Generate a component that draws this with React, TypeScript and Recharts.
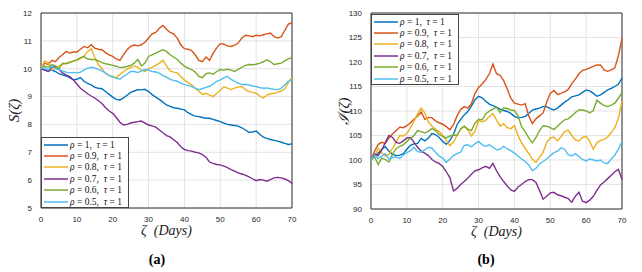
import React from "react";
import {
  LineChart,
  Line,
  XAxis,
  YAxis,
  CartesianGrid,
  Legend,
  ReferenceArea,
} from "recharts";

// ---------------------------------------------------------------------------
// Data (one value per day)
// ---------------------------------------------------------------------------

const DAYS = Array.from({ length: 71 }, (_, i) => i);
const X_TICKS = [0, 10, 20, 30, 40, 50, 60, 70];
const S_TICKS = [5, 6, 7, 8, 9, 10, 11, 12];
const I_TICKS = [90, 95, 100, 105, 110, 115, 120, 125, 130];

const LABELS = ["1", "0.9", "0.8", "0.7", "0.6", "0.5"];
const COLORS = ["#0072BD", "#D95319", "#EDB120", "#7E2F8E", "#77AC30", "#4DBEEE"];

// panel (a): S(zeta)
const S_RHO_10 = [10.0, 9.96, 9.92, 9.95, 9.9, 9.82, 9.78, 9.74, 9.68, 9.6, 9.62, 9.68, 9.55, 9.47, 9.42, 9.33, 9.3, 9.28, 9.18, 9.08, 8.98, 8.9, 8.88, 8.95, 9.05, 9.15, 9.2, 9.25, 9.24, 9.26, 9.18, 9.07, 8.98, 8.9, 8.8, 8.7, 8.65, 8.6, 8.58, 8.55, 8.52, 8.42, 8.35, 8.3, 8.28, 8.25, 8.22, 8.22, 8.18, 8.14, 8.1, 8.05, 8.0, 7.98, 7.96, 7.94, 7.88, 7.8, 7.72, 7.73, 7.76, 7.65, 7.54, 7.5, 7.46, 7.43, 7.4, 7.36, 7.32, 7.28, 7.3];
const S_RHO_09 = [10.0, 10.2, 10.15, 10.3, 10.25, 10.4, 10.5, 10.62, 10.56, 10.6, 10.6, 10.7, 10.8, 10.75, 10.86, 10.74, 10.7, 10.68, 10.58, 10.5, 10.44, 10.35, 10.3, 10.5, 10.68, 10.8, 10.85, 10.82, 10.86, 10.95, 11.1, 11.25, 11.3, 11.45, 11.55, 11.42, 11.3, 11.25, 11.1, 10.85, 10.72, 10.7, 10.65, 10.5, 10.3, 10.25, 10.42, 10.3, 10.55, 10.75, 10.9, 10.88, 10.82, 10.8, 10.85, 10.92, 11.1, 11.2, 11.18, 11.15, 11.2, 11.18, 11.22, 11.25, 11.28, 11.15, 11.1, 11.15, 11.38, 11.6, 11.65];
const S_RHO_08 = [10.0, 10.28, 10.22, 9.95, 10.02, 10.1, 10.15, 10.2, 10.24, 10.27, 10.3, 10.36, 10.45, 10.62, 10.72, 10.4, 10.15, 10.0, 9.82, 9.76, 9.72, 9.67, 9.8, 9.9, 9.98, 10.05, 10.1, 10.05, 9.95, 9.9, 10.0, 10.05, 10.12, 10.2, 10.3, 10.1, 9.92, 9.88, 9.85, 9.72, 9.6, 9.5, 9.42, 9.3, 9.2, 9.08, 9.12, 9.05, 9.0, 9.12, 9.22, 9.35, 9.3, 9.25, 9.3, 9.35, 9.36, 9.25, 9.18, 9.15, 9.12, 9.02, 8.95, 9.05, 9.1, 9.12, 9.15, 9.2, 9.28, 9.5, 9.7];
const S_RHO_07 = [10.0, 9.95, 9.9, 10.05, 10.08, 9.98, 9.85, 9.78, 9.72, 9.6, 9.45, 9.3, 9.2, 9.1, 9.02, 8.95, 8.85, 8.75, 8.6, 8.48, 8.4, 8.25, 8.08, 7.98, 8.0, 8.05, 8.08, 8.1, 8.12, 8.05, 7.98, 7.95, 7.9, 7.8, 7.7, 7.6, 7.55, 7.45, 7.35, 7.2, 7.1, 7.06, 7.04, 7.0, 6.98, 6.92, 6.82, 6.65, 6.6, 6.56, 6.55, 6.5, 6.45, 6.38, 6.32, 6.26, 6.22, 6.18, 6.12, 6.05, 5.98, 6.02, 6.0, 5.96, 6.02, 6.08, 6.1, 6.08, 6.04, 5.98, 5.88];
const S_RHO_06 = [10.0, 10.1, 10.05, 10.15, 10.1, 10.0, 10.2, 10.18, 10.22, 10.27, 10.32, 10.4, 10.44, 10.35, 10.33, 10.33, 10.28, 10.22, 10.18, 10.15, 10.12, 10.09, 10.04, 10.05, 10.08, 10.12, 10.2, 10.33, 10.1, 10.2, 10.44, 10.5, 10.56, 10.62, 10.68, 10.62, 10.5, 10.42, 10.33, 10.2, 10.09, 10.02, 9.97, 9.88, 9.72, 9.68, 9.82, 9.85, 9.8, 9.9, 9.97, 9.95, 9.98, 9.95, 9.9, 9.98, 10.05, 10.12, 10.15, 10.14, 10.16, 10.2, 10.25, 10.32, 10.25, 10.15, 10.18, 10.2, 10.28, 10.35, 10.4];
const S_RHO_05 = [10.0, 10.05, 9.95, 10.1, 10.0, 9.97, 9.92, 9.88, 9.85, 9.87, 9.85, 9.88, 9.95, 10.02, 10.05, 10.03, 9.98, 9.92, 9.85, 9.75, 9.7, 9.66, 9.62, 9.72, 9.8, 9.9, 9.9, 9.86, 9.92, 9.97, 9.95, 9.9, 9.88, 9.84, 9.75, 9.7, 9.62, 9.58, 9.55, 9.48, 9.43, 9.4, 9.36, 9.3, 9.25, 9.28, 9.33, 9.37, 9.45, 9.55, 9.6, 9.67, 9.73, 9.62, 9.55, 9.48, 9.43, 9.44, 9.42, 9.38, 9.36, 9.32, 9.3, 9.31, 9.28, 9.26, 9.24, 9.3, 9.42, 9.55, 9.62];

// panel (b): I(zeta)
const I_RHO_10 = [100, 100.8, 101.4, 102.2, 102.7, 101.8, 101.2, 100.9, 101.0, 101.3, 102.2, 103.0, 103.3, 103.4, 104.4, 103.9, 104.5, 105.4, 105.2, 104.6, 103.8, 103.2, 104.0, 105.2, 107.2, 108.3, 109.2, 109.9, 111.0, 112.3, 113.0, 112.7, 112.0, 111.4, 111.1, 110.8, 110.4, 110.1, 109.9, 109.5, 108.9, 108.6, 108.7, 108.9, 109.5, 110.2, 110.4, 110.6, 110.9, 110.9, 110.5, 110.2, 110.6, 111.2, 111.8, 112.3, 112.9, 113.1, 113.3, 113.8, 114.3, 114.1, 113.6, 113.0, 113.3, 113.8, 114.3, 114.6, 115.0, 115.5, 116.7];
const I_RHO_09 = [100, 101.8, 103.2, 103.6, 103.4, 104.5, 105.3, 106.0, 106.7, 106.6, 107.0, 107.6, 108.3, 109.0, 109.8, 108.3, 108.7, 108.6, 108.0, 107.6, 107.3, 106.8, 106.2, 107.2, 109.0, 110.3, 110.9, 110.6, 111.5, 113.6, 114.8, 115.5, 116.4, 117.6, 119.6, 117.6, 117.3, 116.2, 114.5, 112.6, 111.6, 111.4, 111.2, 111.5, 109.0, 107.4, 108.4, 109.0, 109.6, 111.8, 113.6, 114.2, 113.4, 113.6, 113.9, 114.4, 115.6, 116.5, 117.6, 118.3, 118.5, 118.8, 119.1, 119.4, 119.4, 118.4, 118.1, 118.4, 118.8, 121.3, 124.8];
const I_RHO_08 = [100, 100.7, 102.4, 101.5, 100.8, 101.2, 102.4, 103.6, 105.0, 104.9, 105.4, 106.6, 107.9, 109.4, 110.6, 109.6, 107.8, 106.9, 106.3, 105.8, 105.0, 104.0, 102.9, 103.6, 105.1, 106.3, 106.8, 106.2, 104.9, 105.9, 108.0, 107.8, 108.1, 108.9, 109.5, 108.2, 106.9, 107.4, 106.6, 106.4, 107.0, 105.0, 103.5, 102.4, 101.3, 100.2, 99.5, 100.6, 101.6, 103.6, 104.5, 104.7, 103.9, 104.8, 105.8, 106.1, 105.0, 104.1, 103.9, 104.6, 104.8, 103.8, 102.2, 103.5, 104.0, 104.2, 104.7, 105.6, 106.6, 108.5, 112.0];
const I_RHO_07 = [100, 101.2, 100.9, 102.0, 103.6, 105.0, 104.6, 103.6, 103.4, 103.9, 104.5, 104.6, 103.6, 102.6, 101.8, 101.4, 100.9, 100.1, 99.6, 99.3, 98.7, 97.6, 96.4, 93.7, 94.2, 95.0, 95.6, 96.3, 97.1, 97.8, 98.0, 98.4, 98.7, 98.3, 99.3, 97.8, 96.6, 95.6, 94.7, 93.9, 93.6, 94.5, 95.0, 95.6, 96.0, 96.0, 95.4, 93.8, 92.0, 92.6, 93.3, 93.4, 92.9, 92.7, 92.4, 92.1, 91.4, 92.6, 93.4, 91.6, 91.3, 91.8, 92.6, 93.8, 94.9, 95.5, 96.2, 96.9, 97.6, 98.1, 96.0];
const I_RHO_06 = [100, 100.6, 99.1, 100.4, 100.1, 99.6, 101.2, 102.3, 102.8, 103.1, 103.8, 104.4, 105.0, 106.0, 105.8, 105.5, 105.9, 106.4, 106.0, 105.2, 104.8, 104.5, 104.9, 105.1, 105.0, 106.4, 106.9, 106.3, 106.0, 107.5, 108.3, 108.2, 109.4, 110.0, 110.4, 110.8, 109.7, 110.6, 110.5, 110.2, 110.1, 109.0, 106.8, 105.8, 104.5, 103.5, 104.6, 106.0, 107.0, 106.9, 106.6, 106.2, 106.9, 107.6, 108.2, 108.4, 109.0, 109.7, 110.2, 110.2, 110.0, 109.6, 110.1, 112.2, 111.6, 111.1, 110.9, 111.2, 111.6, 112.6, 113.8];
const I_RHO_05 = [100, 101.0, 100.3, 100.8, 101.3, 100.2, 100.5, 100.6, 100.3, 101.0, 101.5, 101.9, 102.6, 101.7, 101.6, 102.1, 102.6, 102.4, 101.6, 100.8, 100.4, 99.5, 100.2, 100.9, 101.3, 101.6, 103.0, 103.1, 102.7, 103.3, 103.8, 103.1, 102.8, 103.1, 102.6, 102.1, 102.2, 102.8, 102.3, 101.9, 101.4, 100.8, 100.2, 99.7, 99.0, 97.8, 98.3, 99.2, 99.7, 100.2, 100.9, 101.5, 101.8, 102.5, 102.2, 101.1, 100.8, 101.3, 100.7, 100.1, 99.8, 100.2, 100.0, 99.8, 100.0, 99.4, 99.3, 100.2, 101.0, 102.2, 103.8];

const S_SERIES = [S_RHO_10, S_RHO_09, S_RHO_08, S_RHO_07, S_RHO_06, S_RHO_05];
const I_SERIES = [I_RHO_10, I_RHO_09, I_RHO_08, I_RHO_07, I_RHO_06, I_RHO_05];

function buildRows(series: number[][]) {
  return DAYS.map((day, i) => {
    const row: Record<string, number> = { day };
    series.forEach((s, k) => {
      row["r" + k] = s[i];
    });
    return row;
  });
}

const S_ROWS = buildRows(S_SERIES);
const I_ROWS = buildRows(I_SERIES);

// ---------------------------------------------------------------------------
// Pieces
// ---------------------------------------------------------------------------

const TICK = { fontSize: 8, fill: "#262626", fontFamily: "Liberation Sans, Arial, sans-serif" };
const SERIF = "Liberation Serif, 'DejaVu Serif', serif";

function BoxLegend({ payload }: any) {
  // keep series order (recharts may sort the payload)
  const items = [...(payload || [])].sort(
    (a: any, b: any) => LABELS.indexOf(a.value) - LABELS.indexOf(b.value)
  );
  return (
    <div
      style={{
        border: "1px solid #444",
        background: "#fff",
        boxSizing: "border-box",
        width: 88,
        height: 71,
        padding: "1px 0 0 2px",
        fontFamily: SERIF,
        fontSize: 9.5,
        color: "#111",
      }}
    >
      {items.map((p: any, i: number) => (
        <div key={i} style={{ display: "flex", alignItems: "center", height: 11.4, whiteSpace: "nowrap" }}>
          <svg width={24} height={4} style={{ marginRight: 2 }}>
            <line x1={0} y1={2} x2={24} y2={2} stroke={p.color} strokeWidth={1.5} />
          </svg>
          <span>
            <i>ρ</i> = {p.value},&nbsp; <i>τ</i> = 1
          </span>
        </div>
      ))}
    </div>
  );
}

function XTitle({ viewBox }: any) {
  const cx = viewBox.x + viewBox.width / 2;
  return (
    <text x={cx} y={viewBox.y + 27} textAnchor="middle" fontFamily={SERIF} fontStyle="italic" fontSize={14} fill="#222">
      ζ &#160;(Days)
    </text>
  );
}

function makeYTitle(text: string, x: number) {
  return ({ viewBox }: any) => {
    const cy = viewBox.y + viewBox.height / 2;
    return (
      <text
        x={x}
        y={cy}
        transform={`rotate(-90 ${x} ${cy})`}
        textAnchor="middle"
        dominantBaseline="central"
        fontFamily={SERIF}
        fontStyle="italic"
        fontSize={15}
        fill="#222"
      >
        {text}
      </text>
    );
  };
}

interface PanelProps {
  rows: Record<string, number>[];
  yDomain: [number, number];
  yTicks: number[];
  yTitle: string;
  legendTop: number;
  xAxisHeight: number;
}

function Panel({ rows, yDomain, yTicks, yTitle, legendTop, xAxisHeight }: PanelProps) {
  return (
    <LineChart width={300} height={240} data={rows} margin={{ top: 13, right: 8, left: 0, bottom: 0 }}>
      <CartesianGrid stroke="#e3e3e3" />
      <XAxis
        dataKey="day"
        type="number"
        domain={[0, 70]}
        ticks={X_TICKS}
        tick={TICK}
        tickLine={false}
        axisLine={false}
        height={xAxisHeight}
        tickMargin={2}
        label={<XTitle />}
      />
      <YAxis
        type="number"
        domain={yDomain}
        ticks={yTicks}
        tick={TICK}
        tickLine={false}
        axisLine={false}
        width={41}
        tickMargin={3}
        label={makeYTitle(yTitle, 14)}
      />
      {LABELS.map((label, k) => (
        <Line
          key={k}
          type="linear"
          dataKey={"r" + k}
          name={label}
          stroke={COLORS[k]}
          strokeWidth={1.4}
          dot={false}
          isAnimationActive={false}
        />
      ))}
      <ReferenceArea
        x1={0}
        x2={70}
        y1={yDomain[0]}
        y2={yDomain[1]}
        fill="none"
        stroke="#333"
        strokeWidth={1}
        ifOverflow="visible"
      />
      <Legend
        layout="horizontal"
        verticalAlign="middle"
        align="center"
        wrapperStyle={{ left: 41, top: legendTop, width: 88, height: 71 }}
        content={<BoxLegend />}
      />
    </LineChart>
  );
}

export default function App() {
  return (
    <div style={{ position: "absolute", left: 0, top: 0, width: 642, height: 272, background: "#fff" }}>
      <div style={{ position: "absolute", left: 0, top: 0 }}>
        <Panel rows={S_ROWS} yDomain={[5, 12]} yTicks={S_TICKS} yTitle="S(ζ)" legendTop={137} xAxisHeight={32} />
      </div>
      <div style={{ position: "absolute", left: 330, top: 0 }}>
        <Panel rows={I_ROWS} yDomain={[90, 130]} yTicks={I_TICKS} yTitle="ℐ(ζ)" legendTop={14} xAxisHeight={31} />
      </div>
      <div style={{ position: "absolute", left: 137, top: 252, width: 40, textAlign: "center", fontFamily: SERIF, fontWeight: "bold", fontSize: 14 }}>
        (a)
      </div>
      <div style={{ position: "absolute", left: 466, top: 252, width: 40, textAlign: "center", fontFamily: SERIF, fontWeight: "bold", fontSize: 14 }}>
        (b)
      </div>
    </div>
  );
}
